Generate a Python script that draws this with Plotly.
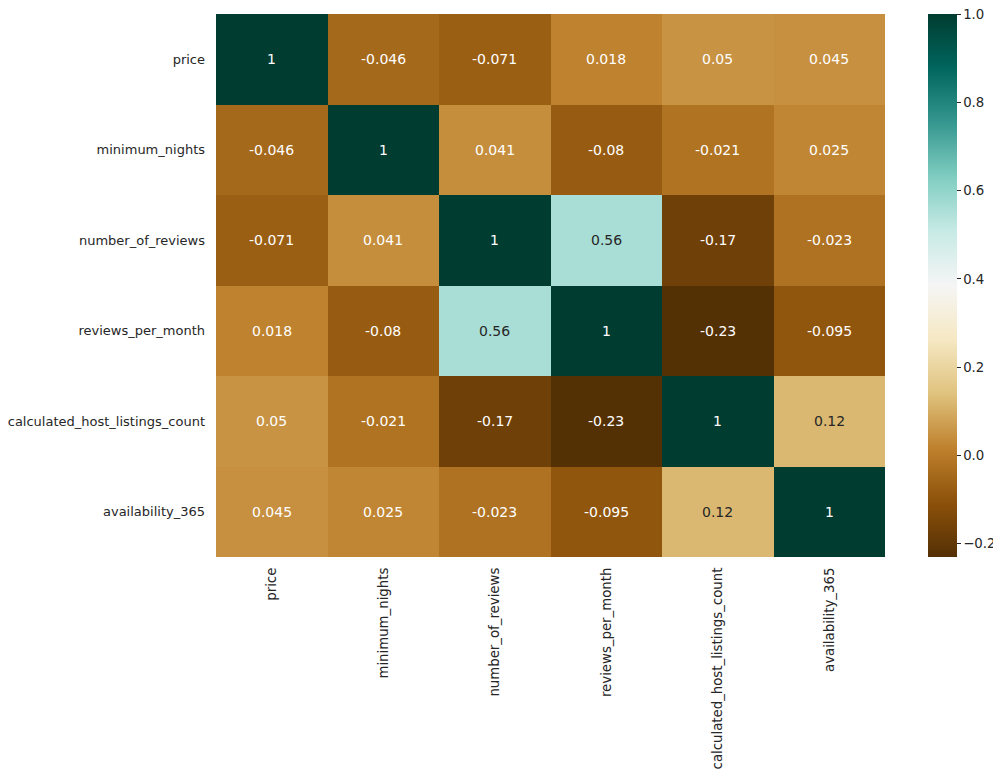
import plotly.graph_objects as go
import plotly.express as px

cols = ['price', 'minimum_nights', 'number_of_reviews', 'reviews_per_month',
        'calculated_host_listings_count', 'availability_365']

corr = [
    [1, -0.046, -0.071, 0.018, 0.05, 0.045],
    [-0.046, 1, 0.041, -0.08, -0.021, 0.025],
    [-0.071, 0.041, 1, 0.56, -0.17, -0.023],
    [0.018, -0.08, 0.56, 1, -0.23, -0.095],
    [0.05, -0.021, -0.17, -0.23, 1, 0.12],
    [0.045, 0.025, -0.023, -0.095, 0.12, 1],
]
# cells where the annotation is drawn dark (light background)
dark_text = [(2, 3), (3, 2), (4, 5), (5, 4)]

fig = go.Figure(go.Heatmap(
    z=corr, x=cols, y=cols,
    colorscale=px.colors.diverging.BrBG,
    zmin=-0.23, zmax=1.0005,
    xgap=0, ygap=0,
    colorbar=dict(
        x=1.064, xanchor='left', xpad=0, y=0.5, yanchor='middle', len=1,
        ypad=0, thickness=29, outlinewidth=0,
        tickvals=[-0.2, 0, 0.2, 0.4, 0.6, 0.8, 1.0],
        ticktext=['\u22120.2', '0.0', '0.2', '0.4', '0.6', '0.8', '1.0'],
        ticks='outside', ticklen=4, tickwidth=1, tickcolor='#262626',
        ticklabeloverflow='allow',
        tickfont=dict(size=13.3, color='#262626'),
    ),
    hoverinfo='skip',
))

# annotate each cell
for i, row in enumerate(corr):
    for j, v in enumerate(row):
        fig.add_annotation(
            x=cols[j], y=cols[i], text=f'{v:g}', showarrow=False,
            font=dict(size=14, color='#262626' if (i, j) in dark_text else 'white'),
        )

fig.update_xaxes(tickangle=-90, showgrid=False, ticks='', zeroline=False,
                 ticklabelstandoff=7,
                 tickfont=dict(size=13.3, color='#262626'))
fig.update_yaxes(autorange='reversed', showgrid=False, ticks='', zeroline=False,
                 ticklabelstandoff=10,
                 tickfont=dict(size=13, color='#262626'))
fig.update_layout(
    width=1001, height=778,
    margin=dict(l=208, r=124, t=6, b=229, autoexpand=False),
    paper_bgcolor='white', plot_bgcolor='white',
    font=dict(family='DejaVu Sans', color='#262626'),
)
fig.write_html('out.html')
